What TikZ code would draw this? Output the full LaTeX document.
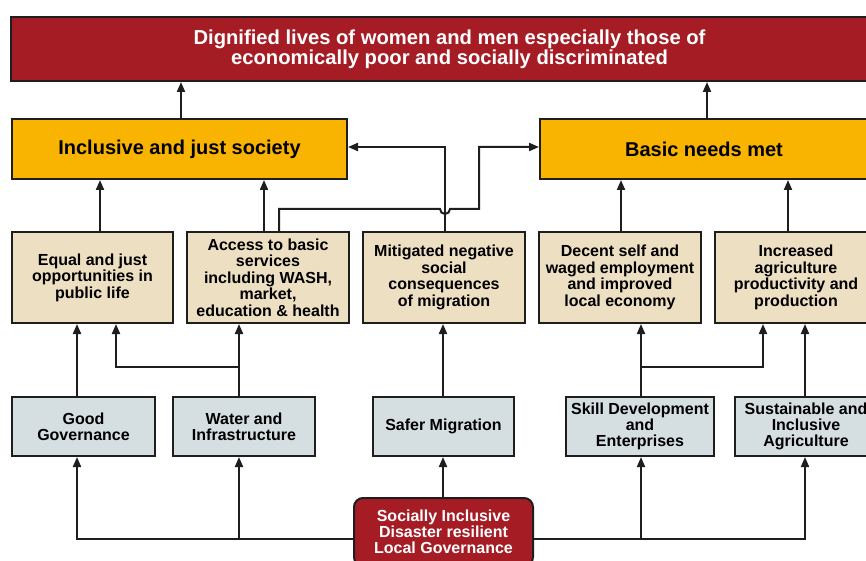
\documentclass[tikz,border=0pt]{standalone}
\usepackage{fontspec}
\setmainfont{Liberation Sans}
\usetikzlibrary{arrows.meta}
\definecolor{goalred}{HTML}{A51C24}
\definecolor{outgold}{HTML}{F8B400}
\definecolor{restan}{HTML}{EDDFC1}
\definecolor{progrey}{HTML}{D5DFE1}
\definecolor{boxline}{HTML}{1E1E1E}
\begin{document}
\begin{tikzpicture}[x=1pt,y=-1pt,line width=2pt,draw=boxline,
    >={Triangle[length=10pt,width=8pt]}]
  \useasboundingbox (0,0) rectangle (866,561);
  \clip (0,0) rectangle (866,561);
  % lanes
  \coordinate (ig) at (181,0);
  \coordinate (bg) at (707,0);
  \coordinate (e1) at (100,0);
  \coordinate (a1) at (264,0);
  \coordinate (a2) at (279,209);
  \coordinate (hopL) at (440,209);
  \coordinate (hopR) at (450,209);
  \coordinate (cross) at (479,147);
  \coordinate (m1) at (445,147);
  \coordinate (d1) at (621,0);
  \coordinate (p1) at (788,0);
  \coordinate (g1) at (77,0);
  \coordinate (w1) at (239,367);
  \coordinate (w2) at (116,367);
  \coordinate (s1) at (443,0);
  \coordinate (k1) at (641,367);
  \coordinate (k2) at (763,367);
  \coordinate (u1) at (805,0);
  \coordinate (bl) at (0,539);
  \begin{scope}[every node/.style={draw=boxline,fill=goalred,text=white,align=center,
      font=\bfseries\fontsize{20.2}{20}\selectfont}]
    \node[minimum width=877,minimum height=64] (goal) at (449.5,49)
      {Dignified lives of women and men especially those of\\economically poor and socially discriminated};
  \end{scope}
  \begin{scope}[every node/.style={draw=boxline,fill=outgold,minimum height=60,
      font=\bfseries\fontsize{20}{22}\selectfont}]
    \node[minimum width=335] (inc) at (179.5,149) {Inclusive and just society};
    \node[minimum width=328] (basic) at (704,149) {Basic needs met};
  \end{scope}
  \begin{scope}[every node/.style={draw=boxline,fill=restan,minimum height=91,align=center,
      font=\bfseries\fontsize{16}{16.5}\selectfont}]
    \node[minimum width=161] (eq) at (92.5,277.5) {Equal and just\\opportunities in\\public life};
    \node[minimum width=162] (acc) at (268,277.5) {Access to basic\\services\\including WASH,\\market,\\education \& health};
    \node[minimum width=162] (mit) at (444,277.5) {Mitigated negative\\social\\consequences\\of migration};
    \node[minimum width=162] (dec) at (620,277.5) {Decent self and\\waged employment\\and improved\\local economy};
    \node[minimum width=162] (agr) at (796,277.5) {Increased\\agriculture\\productivity and\\production};
  \end{scope}
  \begin{scope}[every node/.style={draw=boxline,fill=progrey,minimum height=59,align=center,
      font=\bfseries\fontsize{16}{16}\selectfont}]
    \node[minimum width=143] (gg) at (83.5,426.5) {Good\\Governance};
    \node[minimum width=142] (wat) at (244,426.5) {Water and\\Infrastructure};
    \node[minimum width=141] (saf) at (443.5,426.5) {Safer Migration};
    \node[minimum width=148] (skl) at (640,426.5) {Skill Development\\and\\Enterprises};
    \node[minimum width=142] (sus) at (806,426.5) {Sustainable and\\Inclusive\\Agriculture};
  \end{scope}
  \node[draw=boxline,fill=goalred,text=white,rounded corners=9pt,align=center,
    minimum width=179,minimum height=68,font=\bfseries\fontsize{16}{16}\selectfont]
    (lg) at (443.5,532) {Socially Inclusive\\Disaster resilient\\Local Governance};
  % outcomes to goal
  \draw[->] (ig |- inc.north) -- (ig |- goal.south);
  \draw[->] (bg |- basic.north) -- (bg |- goal.south);
  % results to outcomes
  \draw[->] (e1 |- eq.north) -- (e1 |- inc.south);
  \draw[->] (a1 |- acc.north) -- (a1 |- inc.south);
  \draw[->] (a2 |- acc.north) -- (a2) -- (hopL) arc[start angle=180,end angle=360,radius=5pt]
    -- (hopR) -| (cross) -- (cross -| basic.west);
  \draw[->] (m1 |- mit.north) -- (m1) -- (m1 -| inc.east);
  \draw[->] (d1 |- dec.north) -- (d1 |- basic.south);
  \draw[->] (p1 |- agr.north) -- (p1 |- basic.south);
  % programmes to results
  \draw[->] (g1 |- gg.north) -- (g1 |- eq.south);
  \draw[->] (w1 |- wat.north) -- (w1 |- acc.south);
  \draw[->] (w1) -- (w2) -- (w2 |- eq.south);
  \draw[->] (s1 |- saf.north) -- (s1 |- mit.south);
  \draw[->] (k1 |- skl.north) -- (k1 |- dec.south);
  \draw[->] (k1) -- (k2) -- (k2 |- agr.south);
  \draw[->] (u1 |- sus.north) -- (u1 |- agr.south);
  % local governance to programmes
  \draw[->] (s1 |- lg.north) -- (s1 |- saf.south);
  \draw[->] (lg.west |- bl) -| (g1 |- gg.south);
  \draw[->] (w1 |- bl) -- (w1 |- wat.south);
  \draw[->] (lg.east |- bl) -| (u1 |- sus.south);
  \draw[->] (k1 |- bl) -- (k1 |- skl.south);
\end{tikzpicture}
\end{document}
